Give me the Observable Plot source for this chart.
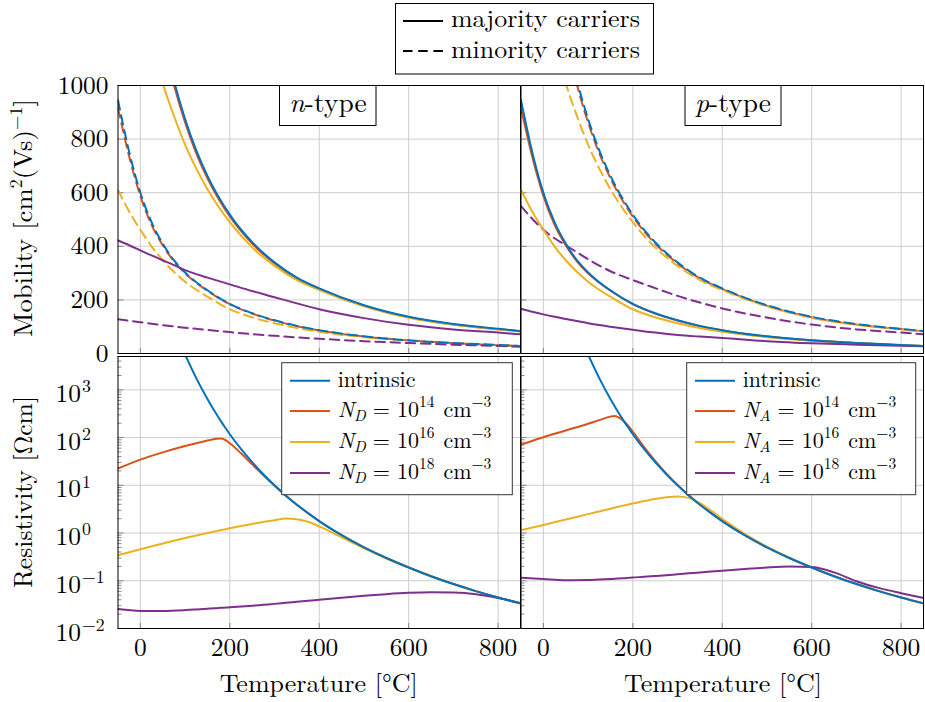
<!DOCTYPE html>
<html><head><meta charset="utf-8">
<script src="https://cdn.jsdelivr.net/npm/d3@7"></script>
<script src="https://cdn.jsdelivr.net/npm/@observablehq/plot@0.6"></script>
<style>
body{margin:0;background:#fff;}
#wrap{position:relative;width:925px;height:702px;overflow:hidden;font-family:'Latin Modern Roman','Liberation Serif',serif;}
#wrap svg{position:absolute;left:0;top:0;}
#wrap svg, #wrap svg text{font-family:'Latin Modern Roman','Liberation Serif',serif !important;}
</style></head><body><div id="wrap"></div>
<script>
// ---------- data ----------
const tempMob = [-50,-25,0,25,50,75,100,125,150,200,250,300,350,400,500,600,700,800,850];
// electron mobility [cm^2/(Vs)]
const muElecIntrinsic = [null,null,null,null,1200,1019,875,758,663,518,415,340,283,243,180,137,110,92,84];
const muElec1e14      = [null,null,null,null,1180,1003,862,747,654,511,410,336,280,241,178,135,108,91,83];
const muElec1e16      = [null,null,null,1180,1010,887,779,690,613,490,396,327,274,237,176,133,107,90,82];
const muElec1e18Maj   = [422,404,385,366,348,330,311,296,283,258,233,210,187,165,132,107,90,78,72];
const muElec1e18Min   = [550,503,462,430,404,378,352,328,307,274,244,215,190,168,134,108,90,78,72];
// hole mobility [cm^2/(Vs)]
const muHoleIntrinsic = [945,752,600,490,410,348,302,266,236,185,150,124,103,87,64,49,39,32,28];
const muHole1e14      = [915,735,588,480,404,344,299,264,234,184,149,123,102,86,63,49,39,31,28];
const muHole1e16      = [610,530,462,400,348,305,268,238,212,165,135,113,95,81,61,48,38,31,28];
const muHole1e18Maj   = [167,156,146,137,129,121,113,106,100,89,78,69,63,58,46,38,33,29,27];
const muHole1e18Min   = [128,122,117,111,106,101,96,92,88,80,72,66,60,55,46,39,33,28,25];

const tempRho = [-50,0,50,100,125,150,160,170,180,190,200,225,250,275,300,325,350,375,400,450,500,550,600,650,700,750,800,850];
// resistivity [Ohm cm]
const rhoIntrinsic = [null,null,null,5500,1758,641,443,311,221.6,160.3,117.5,57.9,30.5,17.05,10.0,6.15,3.93,2.61,1.775,0.904,0.502,0.300,0.190,0.1247,0.0855,0.0608,0.0446,0.0337];
const rhoN1e14 = [22.5,34.6,49.1,66.7,76.3,86.5,90.6,94.5,95.5,89,76,47,27.5,16.2,9.75,6.07,3.9,2.6,1.77,0.904,0.502,0.300,0.190,0.1247,0.0855,0.0608,0.0446,0.0337];
const rhoN1e16 = [0.343,0.459,0.605,0.785,0.888,1.0,1.049,1.098,1.149,1.202,1.256,1.398,1.551,1.712,1.86,2.01,1.95,1.72,1.38,0.81,0.478,0.293,0.188,0.1245,0.0855,0.0608,0.0446,0.0337];
const rhoN1e18 = [0.0255,0.0234,0.0234,0.0243,0.0251,0.026,0.0264,0.0267,0.0271,0.0274,0.0278,0.0289,0.030,0.0314,0.0328,0.0345,0.0362,0.038,0.040,0.0442,0.0485,0.0525,0.0558,0.0575,0.0565,0.052,0.0435,0.034];
const rhoP1e14 = [71,102,141,195,232,275,282,260,220,175,133,64,32.4,17.6,10.2,6.22,3.96,2.62,1.78,0.904,0.502,0.300,0.190,0.1247,0.0855,0.0608,0.0446,0.0337];
const rhoP1e16 = [1.15,1.48,1.92,2.49,2.84,3.24,3.42,3.6,3.78,3.97,4.17,4.68,5.19,5.62,5.86,5.45,4.25,2.96,1.985,0.959,0.517,0.305,0.191,0.125,0.0856,0.0608,0.0446,0.0337];
const rhoP1e18 = [0.116,0.109,0.103,0.104,0.106,0.109,0.11,0.112,0.113,0.115,0.117,0.121,0.126,0.131,0.137,0.143,0.149,0.156,0.163,0.177,0.19,0.198,0.195,0.150,0.098,0.071,0.055,0.0435];

const xTicks = [0,200,400,600,800];
const muTicks = [0,200,400,600,800,1000];
const rhoDecades = [-2,-1,0,1,2,3];
const seriesLabels = ["intrinsic","10^14","10^16","10^18"];
const seriesColors = ["#0072BD","#D95319","#EDB120","#7E2F8E"];

// ---------- layout ----------
const W = 925, H = 702;
const colX = {L:[117.5,520], R:[520.5,923]};
const rowY = {T:[85,353], B:[356,628]};
const GRID = "#cdcdcd", TICK = "#707070";
const FONT = "'Latin Modern Roman', 'Liberation Serif', serif";
const DASH = "9.5,5.7";

function rows(ts, vs){ return ts.map((t,i)=>({t, v: vs[i]})).filter(d => d.v != null); }
function curve(ts, vs, color, dashed){
  return Plot.line(rows(ts, vs), {x:"t", y:"v", stroke: color, strokeWidth: 2,
    strokeDasharray: dashed ? DASH : undefined, curve: "monotone-x", clip: true});
}
const minorTicks = [];
for (let k = -2; k <= 3; k++) for (let m = 2; m <= 9; m++) { const v = m * 10**k; if (v <= 5000) minorTicks.push(v); }

function panel(col, row, yScale, marks, hasX, hasY){
  const [l, r] = colX[col], [t, b] = rowY[row];
  const fw = r - l, fh = b - t;
  const yt = yScale.type === "log" ? rhoDecades.map(d => 10**d) : muTicks;
  const base = [
    Plot.gridX(xTicks, {stroke: GRID, strokeOpacity: 1, strokeWidth: 1}),
    Plot.gridY(yt, {stroke: GRID, strokeOpacity: 1, strokeWidth: 1}),
    Plot.tickX(xTicks, {x: d => d, insetTop: fh - 5, stroke: TICK, strokeWidth: 0.8}),
    Plot.tickY(yt, {y: d => d, insetRight: fw - 6, stroke: TICK, strokeWidth: 0.8}),
  ];
  if (yScale.type === "log") base.push(Plot.tickY(minorTicks, {y: d => d, insetRight: fw - 4, stroke: TICK, strokeWidth: 0.8}));
  return Plot.plot({
    width: W, height: H,
    marginLeft: l, marginRight: W - r, marginTop: t, marginBottom: H - b,
    x: hasX ? {domain: [-50, 850]} : {domain: [-50, 850], axis: null},
    y: hasY ? yScale : {...yScale, axis: null},
    style: {background: "transparent", fontFamily: FONT, fontSize: "25.4px", color: "black", overflow: "visible"},
    marks: [...base, ...marks, Plot.frame({stroke: "black", strokeWidth: 1})]
  });
}

const xAxis = Plot.axisX({ticks: xTicks, tickSize: 0, tickPadding: 9, tickFormat: d => String(d), label: null, fontFamily: FONT, fontSize: 25.4});
const muAxis = Plot.axisY({ticks: muTicks, tickSize: 0, tickPadding: 9.5, tickFormat: d => String(d), label: null, fontFamily: FONT, fontSize: 25.4});
const rhoAxis = [
  Plot.axisY({ticks: [], label: null}),
  Plot.text(rhoDecades, {y: d => 10**d, frameAnchor: "left", text: () => "10", textAnchor: "start", dx: -62.5, dy: 4, fontSize: 25.4, fontFamily: FONT}),
  Plot.text(rhoDecades, {y: d => 10**d, frameAnchor: "left", text: d => d < 0 ? "\u2212" + (-d) : String(d), textAnchor: "start", dx: -36, dy: -3.5, fontSize: 17.8, fontFamily: FONT})
];

const muY = {domain: [0, 1000]};
const rhoY = {type: "log", domain: [0.01, 5000]};

// n-type mobility: solid = electrons (majority), dashed = holes (minority)
const nMob = panel("L","T", muY, [
  curve(tempMob, muHole1e14, seriesColors[1], true),
  curve(tempMob, muHole1e16, seriesColors[2], true),
  curve(tempMob, muHole1e18Min, seriesColors[3], true),
  curve(tempMob, muHoleIntrinsic, seriesColors[0], true),
  curve(tempMob, muElec1e14, seriesColors[1], false),
  curve(tempMob, muElec1e16, seriesColors[2], false),
  curve(tempMob, muElec1e18Maj, seriesColors[3], false),
  curve(tempMob, muElecIntrinsic, seriesColors[0], false),
  muAxis
], false, true);

// p-type mobility: solid = holes (majority), dashed = electrons (minority)
const pMob = panel("R","T", muY, [
  curve(tempMob, muElec1e14, seriesColors[1], true),
  curve(tempMob, muElec1e16, seriesColors[2], true),
  curve(tempMob, muElec1e18Min, seriesColors[3], true),
  curve(tempMob, muElecIntrinsic, seriesColors[0], true),
  curve(tempMob, muHole1e14, seriesColors[1], false),
  curve(tempMob, muHole1e16, seriesColors[2], false),
  curve(tempMob, muHole1e18Maj, seriesColors[3], false),
  curve(tempMob, muHoleIntrinsic, seriesColors[0], false)
], false, false);

const nRho = panel("L","B", rhoY, [
  curve(tempRho, rhoN1e14, seriesColors[1], false),
  curve(tempRho, rhoN1e16, seriesColors[2], false),
  curve(tempRho, rhoN1e18, seriesColors[3], false),
  curve(tempRho, rhoIntrinsic, seriesColors[0], false),
  xAxis, ...rhoAxis
], true, true);

const pRho = panel("R","B", rhoY, [
  curve(tempRho, rhoP1e14, seriesColors[1], false),
  curve(tempRho, rhoP1e16, seriesColors[2], false),
  curve(tempRho, rhoP1e18, seriesColors[3], false),
  curve(tempRho, rhoIntrinsic, seriesColors[0], false),
  xAxis
], true, false);

const wrap = document.getElementById("wrap");
[nMob, pMob, nRho, pRho].forEach(s => wrap.appendChild(s));

// ---------- overlay: legends, panel labels, axis titles ----------
function legendRows(x0, lx0, sym){
  const ys = [380.7, 411, 442, 473];
  let s = "";
  seriesLabels.forEach((lab, i) => {
    const y = ys[i];
    s += `<line x1="${lx0}" x2="${lx0+40}" y1="${y}" y2="${y}" stroke="${seriesColors[i]}" stroke-width="2"/>`;
    if (i === 0) {
      s += `<text x="${x0}" y="${y+6}" font-size="22">intrinsic</text>`;
    } else {
      const e = lab.split("^")[1];
      s += `<text x="${x0}" y="${y+6}" font-size="22"><tspan font-style="italic">N</tspan><tspan font-style="italic" font-size="15.5" dy="4">${sym}</tspan><tspan dy="-4" dx="7">=</tspan><tspan dx="7">10</tspan><tspan font-size="15.5" dy="-10">${e}</tspan><tspan dy="10" dx="9">cm</tspan><tspan font-size="15.5" dy="-10">\u22123</tspan></text>`;
    }
  });
  return s;
}

const ov = `<svg xmlns="http://www.w3.org/2000/svg" width="${W}" height="${H}" font-family="${FONT}">
<rect x="395.5" y="3.5" width="258" height="70.5" fill="white" stroke="black" stroke-width="1"/>
<line x1="403" x2="443" y1="21" y2="21" stroke="black" stroke-width="2"/>
<text x="451" y="27" font-size="23.8" textLength="189" lengthAdjust="spacingAndGlyphs">majority carriers</text>
<line x1="403" x2="443" y1="51" y2="51" stroke="black" stroke-width="2" stroke-dasharray="${DASH}"/>
<text x="451" y="58" font-size="23.8" textLength="189" lengthAdjust="spacingAndGlyphs">minority carriers</text>
<rect x="279.5" y="85.5" width="96.5" height="40" fill="white" stroke="black" stroke-width="1"/>
<text x="328" y="112" font-size="27.5" text-anchor="middle"><tspan font-style="italic">n</tspan>-type</text>
<rect x="685" y="85.5" width="96" height="40" fill="white" stroke="black" stroke-width="1"/>
<text x="733" y="112" font-size="27.5" text-anchor="middle"><tspan font-style="italic">p</tspan>-type</text>
<rect x="281.7" y="362.7" width="230.6" height="132" fill="white" stroke="#333" stroke-width="1"/>
${legendRows(337.7, 290, "D")}
<rect x="686.7" y="362.7" width="229" height="132" fill="white" stroke="#333" stroke-width="1"/>
${legendRows(742.7, 695, "A")}
<text x="318.7" y="692" font-size="25.4" text-anchor="middle" textLength="198" lengthAdjust="spacingAndGlyphs">Temperature [°C]</text>
<text x="723" y="692" font-size="25.4" text-anchor="middle" textLength="198" lengthAdjust="spacingAndGlyphs">Temperature [°C]</text>
<text transform="translate(32,218) rotate(-90)" font-size="25.4" text-anchor="middle" textLength="238" lengthAdjust="spacingAndGlyphs">Mobility [cm<tspan dy="-10" font-size="17.8">2</tspan><tspan dy="10">(Vs)</tspan><tspan dy="-10" font-size="17.8">\u22121</tspan><tspan dy="10">]</tspan></text>
<text transform="translate(32,492) rotate(-90)" font-size="25.4" text-anchor="middle" textLength="192" lengthAdjust="spacingAndGlyphs">Resistivity [Ωcm]</text>
</svg>`;
const holder = document.createElement("div");
holder.innerHTML = ov;
wrap.appendChild(holder.firstElementChild);
</script></body></html>
